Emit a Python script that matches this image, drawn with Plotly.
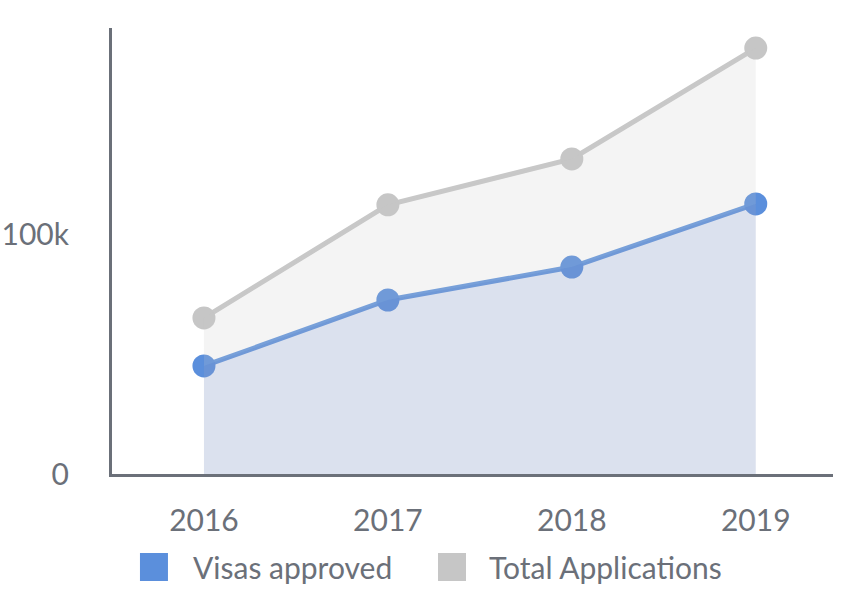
import plotly.graph_objects as go

years = [2016, 2017, 2018, 2019]
year_labels = ["2016", "2017", "2018", "2019"]
visas_approved = [45200, 72800, 86600, 113000]
total_applications = [65300, 112600, 131800, 178200]
y_tick_vals = [0, 100000]
y_tick_text = ["0", "100k"]

AXIS = "#6b7079"
BLUE = "#5b8fdc"
GRAY = "#c6c6c6"
FONT = "Lato"
FS = 30

fig = go.Figure()

fig.add_trace(go.Scatter(x=years, y=total_applications, mode="lines+markers",
                         line=dict(color="#c8c8c8", width=5),
                         marker=dict(color=GRAY, size=23),
                         showlegend=False, hoverinfo="skip", cliponaxis=False))
fig.add_trace(go.Scatter(x=years, y=visas_approved, mode="lines+markers",
                         line=dict(color="#6497de", width=5),
                         marker=dict(color=BLUE, size=23),
                         showlegend=False, hoverinfo="skip", cliponaxis=False))
fig.add_trace(go.Scatter(x=years, y=visas_approved, mode="none", fill="tozeroy",
                         fillcolor="rgba(140,159,201,0.31)",
                         showlegend=False, hoverinfo="skip"))
fig.add_trace(go.Scatter(x=years, y=total_applications, mode="none", fill="tonexty",
                         fillcolor="rgba(200,200,200,0.2)",
                         showlegend=False, hoverinfo="skip"))

# legend (drawn manually)
legend_items = [("Visas approved", BLUE, 0.0582, 0.110),
                ("Total Applications", GRAY, 0.4716, 0.520)]
for name, col, xs, xt in legend_items:
    fig.add_shape(type="rect", xref="paper", yref="paper",
                  xsizemode="pixel", ysizemode="pixel",
                  xanchor=xs, yanchor=-0.2085,
                  x0=-14, x1=14, y0=-14, y1=14,
                  fillcolor=col, line=dict(width=0))
    fig.add_annotation(text=name, xref="paper", yref="paper", x=xt, y=-0.2085,
                       xanchor="left", yanchor="middle", showarrow=False,
                       font=dict(family=FONT, size=FS, color=AXIS))

fig.update_layout(
    width=868, height=606,
    margin=dict(l=112, r=35, t=28, b=132),
    paper_bgcolor="white", plot_bgcolor="white",
    font=dict(family=FONT, size=FS, color=AXIS),
    showlegend=False,
)
fig.update_xaxes(range=[2015.5, 2019.42], tickvals=years, ticktext=year_labels,
                 showgrid=False, zeroline=False, showline=True, linewidth=3,
                 linecolor=AXIS, ticks="", ticklabelstandoff=18, automargin=False,
                 tickfont=dict(family=FONT, size=FS, color=AXIS))
fig.update_yaxes(range=[0, 186600], tickvals=y_tick_vals, ticktext=y_tick_text,
                 showgrid=False, zeroline=False, showline=True, linewidth=3,
                 linecolor=AXIS, ticks="", ticklabelstandoff=34, automargin=False,
                 tickfont=dict(family=FONT, size=FS, color=AXIS))

fig.write_html("out.html", config={"displayModeBar": False},
               post_script="document.body.style.margin='0';document.body.style.overflow='hidden';")
